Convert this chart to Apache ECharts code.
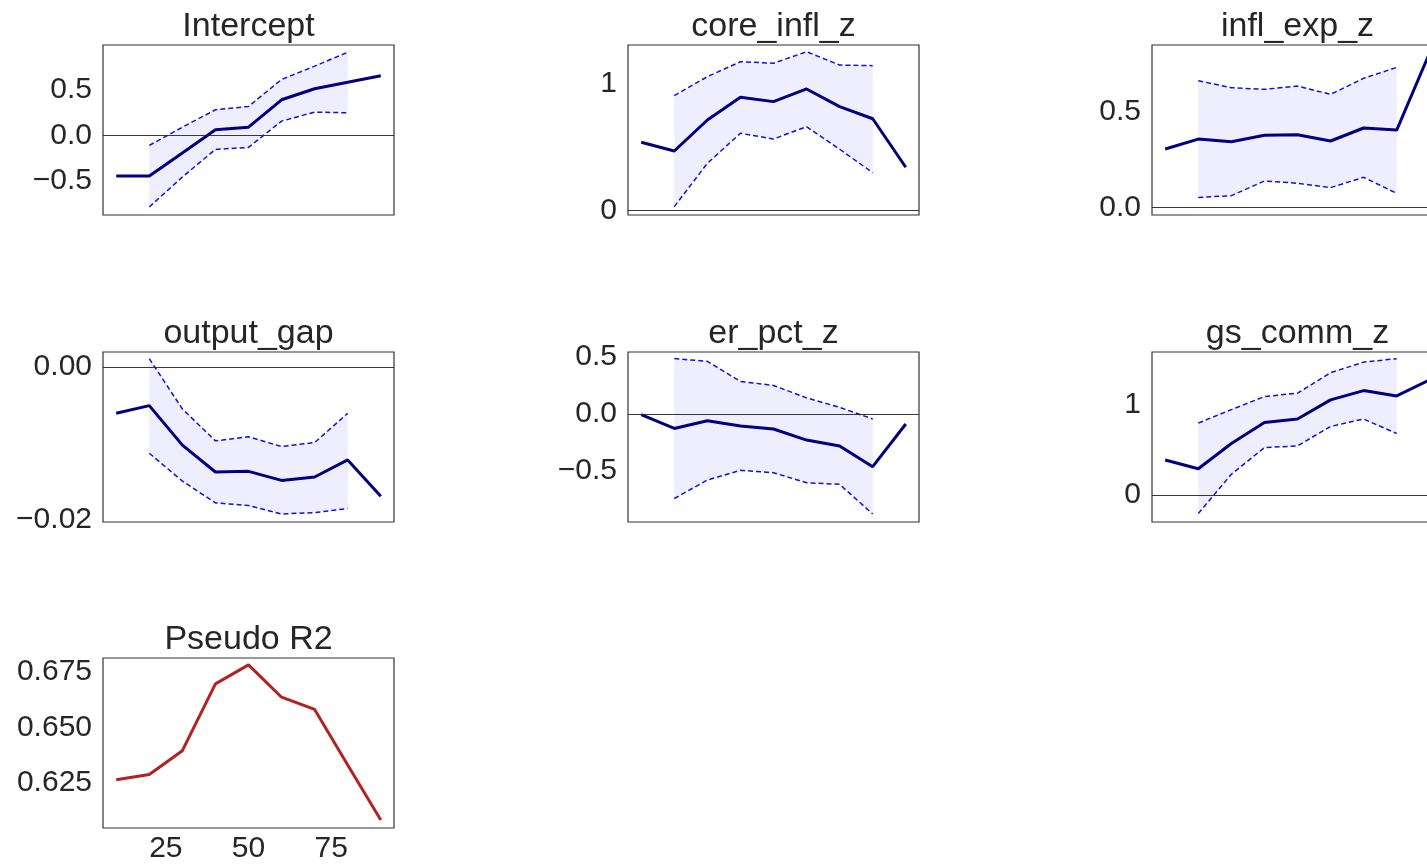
<!DOCTYPE html>
<html>
<head>
<meta charset="utf-8">
<script src="https://cdn.jsdelivr.net/npm/echarts@6/dist/echarts.min.js"></script>
<style>
  body { margin: 0; background: #fff; }
  #chart { width: 1427px; height: 866px; }
</style>
</head>
<body>
<div id="chart"></div>
<script>
// quantiles (x axis) and the ones that have a confidence band
var quantiles = [10, 20, 30, 40, 50, 60, 70, 80, 90];
var bandQuantiles = [20, 30, 40, 50, 60, 70, 80];

var interceptCoef = [-0.447, -0.447, -0.194, 0.062, 0.091, 0.392, 0.513, 0.586, 0.656];
var interceptLower = [-0.788, -0.458, -0.154, -0.132, 0.157, 0.256, 0.249];
var interceptUpper = [-0.11, 0.09, 0.282, 0.319, 0.615, 0.762, 0.915];

var coreInflCoef = [0.539, 0.47, 0.715, 0.894, 0.86, 0.96, 0.82, 0.725, 0.342];
var coreInflLower = [0.031, 0.373, 0.61, 0.565, 0.662, 0.484, 0.299];
var coreInflUpper = [0.907, 1.057, 1.175, 1.163, 1.254, 1.149, 1.144];

var inflExpCoef = [0.305, 0.357, 0.343, 0.377, 0.38, 0.347, 0.415, 0.404, 0.81];
var inflExpLower = [0.052, 0.061, 0.138, 0.126, 0.103, 0.157, 0.073];
var inflExpUpper = [0.662, 0.626, 0.617, 0.634, 0.591, 0.675, 0.732];

var outputGapCoef = [-0.00605, -0.00504, -0.01021, -0.01372, -0.01364, -0.01482, -0.01438, -0.01214, -0.01688];
var outputGapLower = [-0.01127, -0.01491, -0.01776, -0.01811, -0.01921, -0.01903, -0.0185];
var outputGapUpper = [0.0011, -0.00548, -0.00965, -0.00912, -0.01039, -0.00987, -0.00605];

var erPctCoef = [-0.006, -0.127, -0.059, -0.106, -0.132, -0.229, -0.28, -0.462, -0.088];
var erPctLower = [-0.741, -0.579, -0.494, -0.515, -0.603, -0.617, -0.877];
var erPctUpper = [0.485, 0.461, 0.285, 0.25, 0.141, 0.058, -0.044];

var gsCommCoef = [0.39, 0.293, 0.572, 0.806, 0.844, 1.056, 1.159, 1.1, 1.28];
var gsCommLower = [-0.204, 0.231, 0.527, 0.546, 0.761, 0.844, 0.683];
var gsCommUpper = [0.799, 0.948, 1.093, 1.13, 1.357, 1.475, 1.513];

var pseudoR2 = [0.6265, 0.6288, 0.6395, 0.6695, 0.678, 0.6635, 0.658, 0.6331, 0.6084];

// tick labels
var xTicks = [25, 50, 75];
var xTickLabels = ['25', '50', '75'];
var interceptTicks = [-0.5, 0, 0.5];
var interceptTickLabels = ['\u22120.5', '0.0', '0.5'];
var coreInflTicks = [0, 1];
var coreInflTickLabels = ['0', '1'];
var inflExpTicks = [0, 0.5];
var inflExpTickLabels = ['0.0', '0.5'];
var outputGapTicks = [-0.02, 0];
var outputGapTickLabels = ['\u22120.02', '0.00'];
var erPctTicks = [-0.5, 0, 0.5];
var erPctTickLabels = ['\u22120.5', '0.0', '0.5'];
var gsCommTicks = [0, 1];
var gsCommTickLabels = ['0', '1'];
var r2Ticks = [0.625, 0.65, 0.675];
var r2TickLabels = ['0.625', '0.650', '0.675'];

// axis limits as they appear in the picture
var panels = [
  { name: 'Intercept', coef: interceptCoef, lower: interceptLower, upper: interceptUpper, ticks: interceptTicks, labels: interceptTickLabels, ylim: [-0.876, 0.995] },
  { name: 'core_infl_z', coef: coreInflCoef, lower: coreInflLower, upper: coreInflUpper, ticks: coreInflTicks, labels: coreInflTickLabels, ylim: [-0.035, 1.307] },
  { name: 'infl_exp_z', coef: inflExpCoef, lower: inflExpLower, upper: inflExpUpper, ticks: inflExpTicks, labels: inflExpTickLabels, ylim: [-0.04, 0.849] },
  { name: 'output_gap', coef: outputGapCoef, lower: outputGapLower, upper: outputGapUpper, ticks: outputGapTicks, labels: outputGapTickLabels, ylim: [-0.02026, 0.00197] },
  { name: 'er_pct_z', coef: erPctCoef, lower: erPctLower, upper: erPctUpper, ticks: erPctTicks, labels: erPctTickLabels, ylim: [-0.947, 0.543] },
  { name: 'gs_comm_z', coef: gsCommCoef, lower: gsCommLower, upper: gsCommUpper, ticks: gsCommTicks, labels: gsCommTickLabels, ylim: [-0.298, 1.587] },
  { name: 'Pseudo R2', coef: pseudoR2, lower: null, upper: null, ticks: r2Ticks, labels: r2TickLabels, ylim: [0.6048, 0.6811] }
];

var FONT = '"Liberation Sans", Arial, sans-serif';
var TEXT = '#262626';
var colLeft = [103, 628, 1152];
var rowTop = [45, 352, 658];
var W = 291, H = 170;

function pairs(xs, ys) {
  var out = [];
  for (var i = 0; i < xs.length; i++) out.push([xs[i], ys[i]]);
  return out;
}

var grids = [], xAxes = [], yAxes = [], titles = [], series = [];

panels.forEach(function (p, k) {
  var left = colLeft[k % 3], top = rowTop[Math.floor(k / 3)];
  grids.push({ left: left, top: top, width: W, height: H, show: true,
    outerBoundsMode: 'none', containLabel: false,
    borderColor: '#333', borderWidth: 1.2, backgroundColor: '#fff' });
  titles.push({ text: p.name, left: left + W / 2, top: top - 35, textAlign: 'center', padding: 0,
    textStyle: { fontFamily: FONT, fontSize: 34, fontWeight: 'normal', color: TEXT } });

  var last = k === panels.length - 1;
  xAxes.push({ type: 'value', gridIndex: k, min: 6, max: 94, show: last,
    axisLine: { show: false }, axisTick: { show: false }, splitLine: { show: false },
    axisLabel: { customValues: xTicks, margin: 6, fontFamily: FONT, fontSize: 30, color: TEXT,
      formatter: function (v) { return xTickLabels[xTicks.indexOf(v)]; } } });

  yAxes.push({ type: 'value', gridIndex: k, min: p.ylim[0], max: p.ylim[1],
    axisLine: { show: false }, axisTick: { show: false }, splitLine: { show: false },
    axisLabel: { customValues: p.ticks, margin: 11, fontFamily: FONT, fontSize: 30, color: TEXT,
      formatter: function (v) {
        var best = 0;
        for (var i = 1; i < p.ticks.length; i++)
          if (Math.abs(p.ticks[i] - v) < Math.abs(p.ticks[best] - v)) best = i;
        return p.labels[best];
      } } });

  if (p.lower) {
    series.push({
      type: 'custom', xAxisIndex: k, yAxisIndex: k, silent: true, z: 1,
      data: [[bandQuantiles[0], p.lower[0]]],
      renderItem: function (params, api) {
        var pts = [];
        for (var i = 0; i < bandQuantiles.length; i++) pts.push(api.coord([bandQuantiles[i], p.upper[i]]));
        for (var j = bandQuantiles.length - 1; j >= 0; j--) pts.push(api.coord([bandQuantiles[j], p.lower[j]]));
        return { type: 'polygon', shape: { points: pts }, style: { fill: 'rgba(0,0,255,0.065)' } };
      }
    });
    [p.upper, p.lower].forEach(function (b) {
      series.push({ type: 'line', xAxisIndex: k, yAxisIndex: k, data: pairs(bandQuantiles, b),
        symbol: 'none', silent: true, z: 3,
        lineStyle: { color: '#1010e0', width: 1.5, type: [5, 3] } });
    });
    series.push({ type: 'line', xAxisIndex: k, yAxisIndex: k, data: pairs(quantiles, p.coef),
      symbol: 'none', silent: true, z: 4,
      lineStyle: { color: '#000080', width: 3 },
      markLine: { silent: true, symbol: 'none', label: { show: false },
        lineStyle: { color: '#222', width: 0.9, type: 'solid' },
        data: [{ yAxis: 0 }] } });
  } else {
    series.push({ type: 'line', xAxisIndex: k, yAxisIndex: k, data: pairs(quantiles, p.coef),
      symbol: 'none', silent: true, z: 4,
      lineStyle: { color: '#b22222', width: 3 } });
  }
});

var chart = echarts.init(document.getElementById('chart'));
chart.setOption({
  animation: false,
  backgroundColor: '#fff',
  title: titles,
  grid: grids,
  xAxis: xAxes,
  yAxis: yAxes,
  series: series
});
</script>
</body>
</html>
